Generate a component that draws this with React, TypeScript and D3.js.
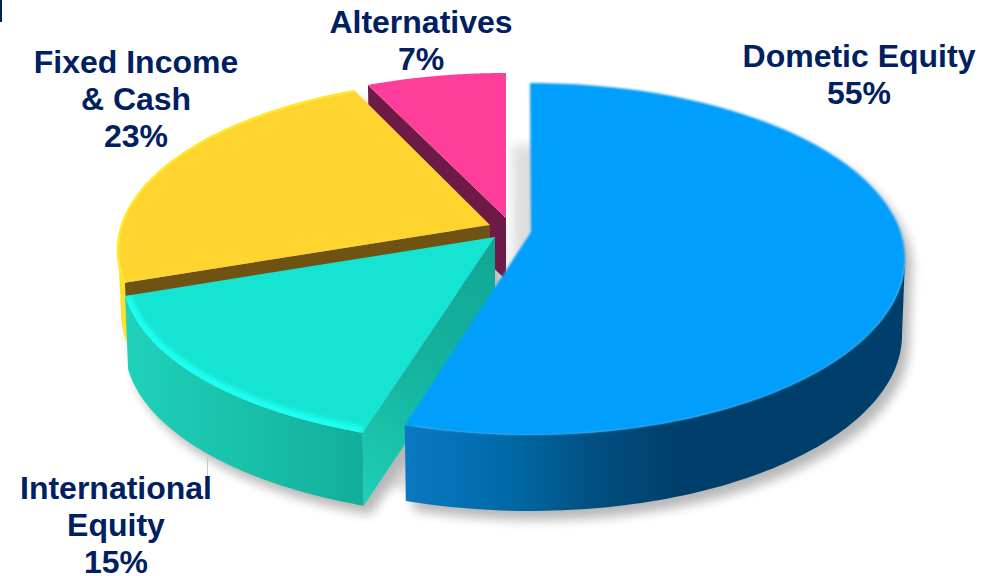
import React from "react";
import * as d3 from "d3";

const categories = ["Dometic Equity", "International Equity", "Fixed Income & Cash", "Alternatives"];
const shares = [55, 15, 23, 7];
const labelLines = [
  ["Dometic Equity", "55%"],
  ["International", "Equity", "15%"],
  ["Fixed Income", "& Cash", "23%"],
  ["Alternatives", "7%"],
];

// Drawing style of the tilted, exploded pie
const topColors = ["#009ffe", "#16e4d2", "#ffd42e", "#ff3e9c"];
const wallColors = ["none", "url(#tealWall)", "#6f5312", "#6e1a47"];
const sideFill = ["url(#blueSide)", "url(#tealSide)", "#fde22c", "#d92f85"];
const centers = [
  { cx: 530, cy: 259, ry: 176, apexX: 531, apexY: 232, depth: 76 },
  { cx: 497, cy: 274, ry: 170, apexX: 495, apexY: 237, depth: 73 },
  { cx: 493, cy: 250, ry: 171, apexX: 490, apexY: 225, depth: 62 },
  { cx: 506, cy: 243, ry: 170, apexX: 506, apexY: 218, depth: 62 },
];
const RX = 375;
const labelAnchors = [
  { x: 859, y: 67 },
  { x: 116, y: 499 },
  { x: 136, y: 73 },
  { x: 421, y: 33 },
];
const lineGap = 37;

// Perspective distortion of the pie angles (degrees, clockwise from the top)
const pieGen = d3.pie<number>().sort(null).value((d) => d);
const arcs = pieGen(shares);
const boundaries = [0, ...arcs.map((a) => a.endAngle)];
const rad = (d: number) => (d * Math.PI) / 180;
const warped = [0, 199.5, 261, 338.4, 360].map(rad);
const warp = d3.scaleLinear().domain(boundaries).range(warped);
// the exploded slices do not share their seam exactly
const startNudge = [0, 1.5, -2, 0].map(rad);
const endNudge = [0, 1.6, 0, 0].map(rad);
const startOf = (i: number) => warp(arcs[i].startAngle) + startNudge[i];
const endOf = (i: number) => warp(arcs[i].endAngle) + endNudge[i];

const line = d3.line<[number, number]>().curve(d3.curveLinear);

function point(i: number, a: number, drop = 0, shrink = 0): [number, number] {
  const c = centers[i];
  return [c.cx + (RX - shrink) * Math.sin(a), c.cy + drop - c.ry * Math.cos(a)];
}
function arcPts(i: number, a0: number, a1: number, drop = 0, shrink = 0) {
  const n = 80;
  return d3.range(n + 1).map((k) => point(i, a0 + ((a1 - a0) * k) / n, drop, shrink));
}
function topPath(i: number) {
  const c = centers[i];
  return line([[c.apexX, c.apexY], ...arcPts(i, startOf(i), endOf(i))]) + "Z";
}
function outerEdge(i: number) {
  return line(arcPts(i, startOf(i), endOf(i)))!;
}
// only the part of the rim that faces the viewer (lower half of the ellipse)
function sidePath(i: number) {
  const c = centers[i];
  const from = Math.max(startOf(i), Math.PI / 2);
  const to = Math.min(endOf(i), (3 * Math.PI) / 2);
  if (to <= from) return "";
  const upper = arcPts(i, from, to);
  const lower = arcPts(i, from, to, c.depth, 3).reverse();
  return line([...upper, ...lower]) + "Z";
}
function wallPath(i: number, angle: number) {
  const c = centers[i];
  const p = point(i, angle);
  const q = point(i, angle, c.depth, 3);
  return line([[c.apexX, c.apexY], p, q, [c.apexX, c.apexY + c.depth]]) + "Z";
}

const order = [3, 2, 1, 0];

export default function App() {
  return (
    <svg
      width={985}
      height={576}
      viewBox="0 0 985 576"
      style={{ position: "absolute", left: 0, top: 0, background: "#fff" }}
    >
      <defs>
        <filter id="shadow" x="-20%" y="-20%" width="140%" height="140%">
          <feGaussianBlur stdDeviation="5.5" />
        </filter>
        <filter id="soft" x="-5%" y="-5%" width="110%" height="110%">
          <feGaussianBlur stdDeviation="1.3" />
        </filter>
        <filter id="glow" x="-5%" y="-5%" width="110%" height="110%">
          <feGaussianBlur stdDeviation="2" />
        </filter>
        <linearGradient id="blueSide" gradientUnits="userSpaceOnUse" x1="404" x2="905" y1="0" y2="0">
          <stop offset="0" stopColor="#0a78c4" />
          <stop offset="0.2" stopColor="#006aa8" />
          <stop offset="0.38" stopColor="#004f80" />
          <stop offset="0.55" stopColor="#003f6b" />
          <stop offset="1" stopColor="#003f6b" />
        </linearGradient>
        <linearGradient id="tealSide" gradientUnits="userSpaceOnUse" x1="125" x2="365" y1="0" y2="0">
          <stop offset="0" stopColor="#1fd2ba" />
          <stop offset="1" stopColor="#12ae9a" />
        </linearGradient>
        <linearGradient id="tealWall" gradientUnits="userSpaceOnUse" x1="495" x2="365" y1="237" y2="508">
          <stop offset="0" stopColor="#11a695" />
          <stop offset="0.55" stopColor="#15b5a0" />
          <stop offset="1" stopColor="#1fd0b8" />
        </linearGradient>
        <clipPath id="tealClip">
          <path d={topPath(1)} />
        </clipPath>
      </defs>

      {/* soft shadow on the page */}
      <g filter="url(#shadow)" opacity={0.28} transform="translate(7,9)">
        {[2, 1, 0].map((i) => (
          <g key={categories[i]}>
            <path d={sidePath(i)} fill="#000" />
            <path d={topPath(i)} fill="#000" />
            {i > 0 && <path d={wallPath(i, startOf(i))} fill="#000" />}
          </g>
        ))}
      </g>
      <g filter="url(#shadow)" opacity={0.13} transform="translate(-18,62)">
        <path d={topPath(0)} fill="#000" />
      </g>

      {order.map((i) => (
        <g key={categories[i]}>
          <path d={sidePath(i)} fill={sideFill[i]} />
          {i > 0 && <path d={wallPath(i, startOf(i))} fill={wallColors[i]} />}
          <path d={topPath(i)} fill={topColors[i]} filter={i === 0 ? "url(#soft)" : undefined} />
          {i === 1 && (
            <g clipPath="url(#tealClip)">
              <path d={outerEdge(1)} fill="none" stroke="#1cfff0" strokeWidth={13} filter="url(#glow)" />
            </g>
          )}
          {i === 2 && <path d={outerEdge(2)} fill="none" stroke="#ffe82c" strokeWidth={2.5} />}
        </g>
      ))}

      <rect x={0} y={0} width={2} height={22} fill="#00205f" />
      <line x1={207.5} x2={207.5} y1={457} y2={477} stroke="#c4c8cc" strokeWidth={1} />

      {labelLines.map((lines, i) => (
        <text
          key={categories[i]}
          fontFamily="'Liberation Sans', Arial, sans-serif"
          fontWeight={700}
          fontSize={32}
          fill="#00205f"
          textAnchor="middle"
        >
          {lines.map((l, k) => (
            <tspan key={l} x={labelAnchors[i].x} y={labelAnchors[i].y + k * lineGap}>
              {l}
            </tspan>
          ))}
        </text>
      ))}
    </svg>
  );
}
